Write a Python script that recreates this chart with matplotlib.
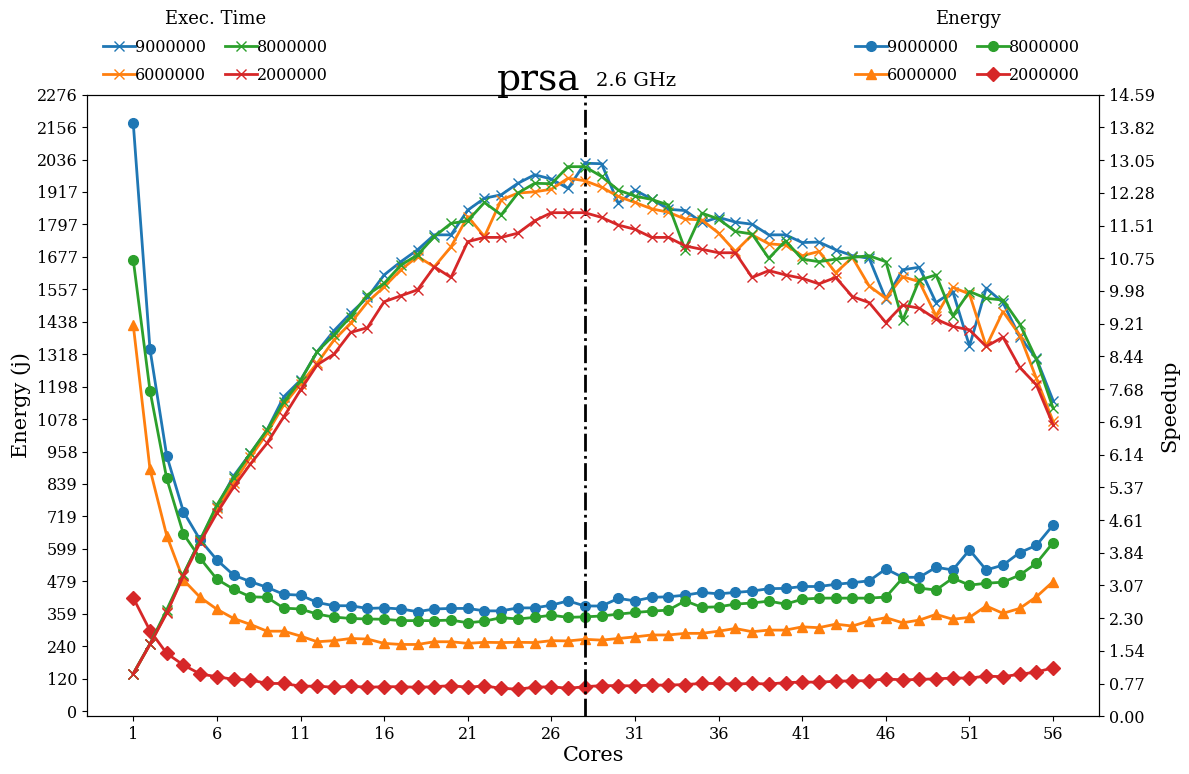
import numpy as np
import matplotlib
matplotlib.use("Agg")
import matplotlib.pyplot as plt

plt.rcParams['font.family'] = ['DejaVu Serif']

cores = list(range(1, 57))
sizes = ['9000000', '6000000', '8000000', '2000000']

energy_9m = [2170, 1336, 943, 736, 632, 558, 502, 478, 457, 431, 428, 401, 389, 389, 379,
             381, 377, 367, 377, 379, 379, 370, 370, 381, 381, 391, 407, 388, 388, 416,
             407, 420, 422, 428, 438, 433, 438, 443, 452, 453, 460, 460, 468, 474, 481,
             525, 494, 494, 531, 521, 595, 521, 539, 585, 612, 687]
energy_6m = [1425, 893, 648, 484, 420, 376, 342, 320, 295, 295, 277, 256, 260, 268, 266,
             250, 246, 246, 256, 256, 250, 254, 253, 254, 253, 260, 259, 265, 262, 268,
             274, 281, 281, 287, 287, 295, 305, 293, 299, 299, 311, 308, 321, 314, 333,
             345, 326, 336, 357, 339, 346, 388, 361, 379, 422, 478]
energy_8m = [1666, 1183, 859, 654, 564, 487, 450, 422, 420, 380, 377, 358, 347, 342, 340,
             339, 334, 334, 334, 336, 326, 332, 345, 340, 346, 354, 346, 348, 351, 358,
             364, 369, 373, 407, 383, 385, 395, 399, 406, 395, 413, 417, 417, 417, 417,
             421, 491, 454, 447, 491, 465, 472, 476, 502, 546, 622]
energy_2m = [418, 297, 213, 170, 137, 127, 117, 115, 102, 102, 92, 92, 88, 92, 88,
             90, 90, 88, 90, 94, 88, 93, 84, 81, 88, 90, 84, 90, 94, 94,
             93, 96, 96, 98, 102, 102, 100, 102, 100, 105, 107, 107, 110, 112, 112,
             119, 115, 117, 119, 122, 122, 129, 127, 136, 144, 160]

speedup_9m = [1.00, 1.70, 2.46, 3.32, 4.14, 4.92, 5.64, 6.17, 6.72, 7.50, 7.89, 8.56, 9.05, 9.46, 9.83,
              10.36, 10.67, 10.95, 11.30, 11.30, 11.88, 12.16, 12.24, 12.51, 12.71, 12.61, 12.39, 12.98, 12.97, 12.04,
              12.35, 12.14, 11.90, 11.87, 11.59, 11.71, 11.60, 11.55, 11.30, 11.30, 11.12, 11.13, 10.95, 10.81, 10.75,
              9.79, 10.48, 10.54, 9.71, 9.97, 8.69, 10.05, 9.71, 8.91, 8.40, 7.41]
speedup_6m = [1.00, 1.69, 2.44, 3.32, 4.12, 4.88, 5.47, 6.08, 6.64, 7.31, 7.80, 8.29, 8.83, 9.23, 9.72,
              10.08, 10.48, 10.79, 10.55, 11.02, 11.73, 11.26, 12.12, 12.28, 12.31, 12.37, 12.63, 12.57, 12.42, 12.20,
              12.06, 11.91, 11.83, 11.67, 11.65, 11.34, 10.91, 11.30, 11.09, 11.06, 10.81, 10.91, 10.41, 10.77, 10.10,
              9.81, 10.32, 10.20, 9.40, 10.07, 9.91, 8.68, 9.50, 8.95, 7.93, 6.92]
speedup_8m = [1.00, 1.70, 2.50, 3.34, 4.14, 4.96, 5.60, 6.17, 6.72, 7.38, 7.88, 8.56, 8.95, 9.38, 9.89,
              10.16, 10.59, 10.83, 11.26, 11.57, 11.63, 12.06, 11.77, 12.28, 12.51, 12.50, 12.90, 12.90, 12.67, 12.35,
              12.21, 12.13, 12.00, 10.95, 11.81, 11.67, 11.38, 11.32, 10.75, 11.16, 10.73, 10.67, 10.73, 10.77, 10.81,
              10.67, 9.29, 10.24, 10.36, 9.40, 9.97, 9.81, 9.77, 9.21, 8.38, 7.23]
speedup_2m = [1.00, 1.69, 2.42, 3.30, 4.08, 4.77, 5.38, 5.92, 6.41, 7.03, 7.66, 8.25, 8.50, 9.01, 9.12,
              9.73, 9.87, 10.01, 10.55, 10.30, 11.14, 11.24, 11.24, 11.34, 11.63, 11.82, 11.82, 11.82, 11.71, 11.53,
              11.43, 11.24, 11.24, 11.04, 10.96, 10.88, 10.88, 10.30, 10.46, 10.36, 10.28, 10.15, 10.30, 9.85, 9.71,
              9.24, 9.65, 9.58, 9.32, 9.15, 9.07, 8.68, 8.90, 8.19, 7.78, 6.84]

energy_ticklabels = ['0', '120', '240', '359', '479', '599', '719', '839', '958', '1078', '1198',
                     '1318', '1438', '1557', '1677', '1797', '1917', '2036', '2156', '2276']
speedup_ticklabels = ['0.00', '0.77', '1.54', '2.30', '3.07', '3.84', '4.61', '5.37', '6.14', '6.91',
                      '7.68', '8.44', '9.21', '9.98', '10.75', '11.51', '12.28', '13.05', '13.82', '14.59']
energy_max = 2276
speedup_max = 14.59
best_cores = 28


def main():
    energies = [energy_9m, energy_6m, energy_8m, energy_2m]
    speedups = [speedup_9m, speedup_6m, speedup_8m, speedup_2m]
    energy_markers = ['o', '^', 'o', 'D']
    colors = ['C0', 'C1', 'C2', 'C3']

    fig = plt.figure(figsize=(11.89, 7.74), dpi=100)
    ax = fig.add_axes([0.0734, 0.0745, 0.851, 0.8032])
    ax2 = ax.twinx()

    e_lines = []
    for e, m, c, s in zip(energies, energy_markers, colors, sizes):
        l, = ax.plot(cores, e, marker=m, color=c, linewidth=2, markersize=7, label=s)
        e_lines.append(l)
    s_lines = []
    for sp, c, s in zip(speedups, colors, sizes):
        l, = ax2.plot(cores, sp, marker='x', color=c, linewidth=2, markersize=7, label=s)
        s_lines.append(l)

    ax.axvline(best_cores, color='black', linestyle='-.', linewidth=2)

    ax.set_ylim(-19.4, energy_max)
    ax.set_yticks(np.linspace(0, energy_max, 20))
    ax.set_yticklabels(energy_ticklabels)
    ax2.set_ylim(0, speedup_max)
    ax2.set_yticks(np.linspace(0, speedup_max, 20))
    ax2.set_yticklabels(speedup_ticklabels)
    ax.set_xticks(cores[::5])
    ax.tick_params(labelsize=11.5)
    ax2.tick_params(labelsize=11.5)

    ax.set_xlabel('Cores', fontsize=15, labelpad=2)
    ax.set_ylabel('Energy (j)', fontsize=15)
    ax2.set_ylabel('Speedup', fontsize=15)

    ax.text(0.487, 1.008, 'prsa', transform=ax.transAxes, ha='right', va='baseline', fontsize=27)
    ax.text(0.503, 1.014, '2.6 GHz', transform=ax.transAxes, ha='left', va='baseline', fontsize=14)

    for handles, title, xc in [(s_lines, 'Exec. Time', 0.181), (e_lines, 'Energy', 0.814)]:
        fig.legend(handles=handles, title=title, ncol=2, frameon=False,
                   loc='upper center', bbox_to_anchor=(xc, 1.0), fontsize=11.5,
                   title_fontsize=13, handlelength=2, columnspacing=1.2, handletextpad=0.0,
                   labelspacing=0.7, borderaxespad=0.2)

    fig.savefig('out.png', dpi=100)


if __name__ == "__main__":
    main()
